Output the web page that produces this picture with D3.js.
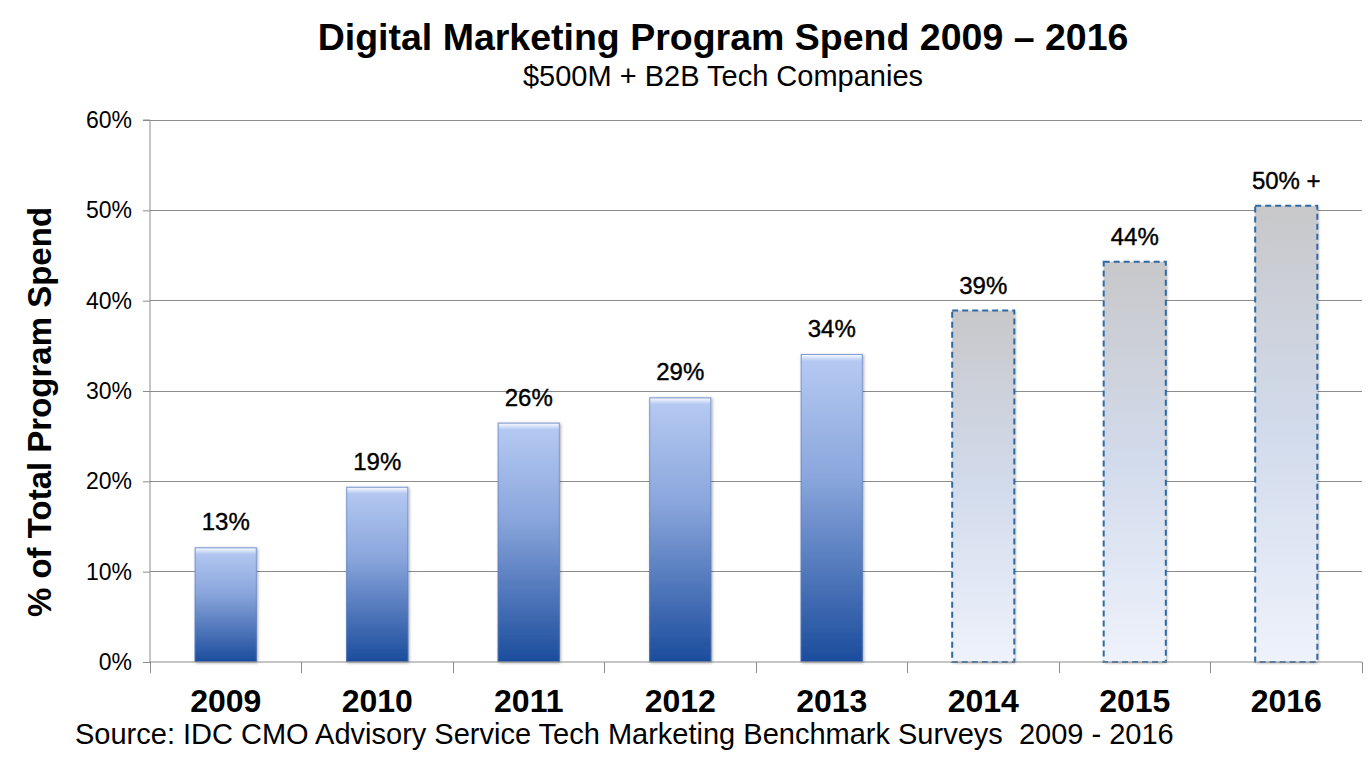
<!DOCTYPE html>
<html><head><meta charset="utf-8">
<script src="https://cdn.jsdelivr.net/npm/d3@7"></script>
<style>body{margin:0;background:#fff}svg{display:block;font-family:Arial,"Liberation Sans",sans-serif}text{white-space:pre}</style>
</head><body>
<svg id="c" width="1372" height="770"></svg>
<script>
const categories = ["2009","2010","2011","2012","2013","2014","2015","2016"];
const values = [12.7, 19.4, 26.5, 29.3, 34.1, 38.9, 44.3, 50.5];
const labels = ["13%","19%","26%","29%","34%","39%","44%","50% +"];
const projected = [false,false,false,false,false,true,true,true];
const yTicks = [0,10,20,30,40,50,60];

const svg = d3.select("#c");
const m = {l:150, r:1362, t:120, b:662};
const x = d3.scaleBand().domain(categories).range([m.l, m.r]).paddingInner(0.59).paddingOuter(0.295);
const xo = d3.scaleBand().domain(categories).range([m.l, m.r]);
const y = d3.scaleLinear().domain([0,60]).range([m.b, m.t]);

const defs = svg.append("defs");
const g1 = defs.append("linearGradient").attr("id","gA").attr("x1",0).attr("y1",0).attr("x2",0).attr("y2",1);
g1.append("stop").attr("offset","0%").attr("stop-color","#b7cbf3");
g1.append("stop").attr("offset","40%").attr("stop-color","#8aa6dc");
g1.append("stop").attr("offset","100%").attr("stop-color","#1b4c9c");
const g2 = defs.append("linearGradient").attr("id","gB").attr("x1",0).attr("y1",0).attr("x2",0).attr("y2",1);
g2.append("stop").attr("offset","0%").attr("stop-color","#c8c8ca");
g2.append("stop").attr("offset","50%").attr("stop-color","#d2dbec");
g2.append("stop").attr("offset","100%").attr("stop-color","#eef2fb");
const gh = defs.append("linearGradient").attr("id","gH").attr("x1",0).attr("y1",0).attr("x2",0).attr("y2",1);
gh.append("stop").attr("offset","0%").attr("stop-color","#ffffff").attr("stop-opacity",0.85);
gh.append("stop").attr("offset","100%").attr("stop-color","#ffffff").attr("stop-opacity",0);
const sh = defs.append("filter").attr("id","sh").attr("x","-20%").attr("y","-5%").attr("width","140%").attr("height","115%");
sh.append("feDropShadow").attr("dx",1).attr("dy",1).attr("stdDeviation",1.5).attr("flood-color","#000").attr("flood-opacity",0.35);

// gridlines
svg.append("g").selectAll("line").data(yTicks.filter(d=>d>0)).join("line")
  .attr("x1",m.l).attr("x2",m.r).attr("y1",d=>y(d)).attr("y2",d=>y(d))
  .attr("stroke","#8c8c8c").attr("stroke-width",1).attr("shape-rendering","crispEdges");

// y axis
const ya = svg.append("g").attr("transform",`translate(${m.l},0)`)
  .call(d3.axisLeft(y).tickValues(yTicks).tickFormat(d=>d+"%").tickSize(7).tickPadding(11));
ya.select(".domain").attr("stroke","#8c8c8c").attr("d",`M-7,${m.t}H0V${m.b}`);
ya.selectAll(".tick line").attr("stroke","#8c8c8c");
ya.selectAll("text").attr("font-size","23px").attr("fill","#000").attr("font-family","Arial,'Liberation Sans',sans-serif");

// bars
const bars = svg.append("g");
categories.forEach((c,i)=>{
  const bx = x(c), bw = x.bandwidth(), by = y(values[i]), bh = y(0)-y(values[i]);
  if(!projected[i]){
    bars.append("rect").attr("x",bx).attr("y",by).attr("width",bw).attr("height",bh)
      .attr("fill","url(#gA)").attr("filter","url(#sh)");
    bars.append("rect").attr("x",bx+1).attr("y",by+1).attr("width",bw-2).attr("height",6)
      .attr("fill","url(#gH)");
    bars.append("rect").attr("x",bx+0.5).attr("y",by+0.5).attr("width",bw-1).attr("height",bh-1)
      .attr("fill","none").attr("stroke","#5f7fb8").attr("stroke-width",1).attr("stroke-opacity",0.6);
  } else {
    bars.append("rect").attr("x",bx).attr("y",by).attr("width",bw).attr("height",bh)
      .attr("fill","url(#gB)").attr("filter","url(#sh)");
    bars.append("rect").attr("x",bx).attr("y",by).attr("width",bw).attr("height",bh)
      .attr("fill","none").attr("stroke","#2e6aa3").attr("stroke-width",2).attr("stroke-dasharray","6,4");
  }
  bars.append("text").attr("x",bx+bw/2).attr("y",by-17).attr("text-anchor","middle")
    .attr("font-size","24px").attr("fill","#000").attr("stroke","#000").attr("stroke-width",0.4)
    .text(labels[i]);
});

// x axis
const xa = svg.append("g").attr("transform",`translate(0,${m.b})`)
  .call(d3.axisBottom(xo).tickSize(0).tickPadding(27));
xa.select(".domain").attr("stroke","#8c8c8c").attr("d",`M${m.l},0H${m.r}`);
xa.selectAll("text").attr("font-size","32px").attr("font-weight","bold").attr("fill","#000")
  .attr("font-family","Arial,'Liberation Sans',sans-serif");
svg.append("g").selectAll("line").data(d3.range(categories.length+1)).join("line")
  .attr("x1",d=>m.l+d*xo.step()).attr("x2",d=>m.l+d*xo.step())
  .attr("y1",m.b).attr("y2",m.b+11).attr("stroke","#8c8c8c").attr("shape-rendering","crispEdges");

// titles
svg.append("text").attr("x",723).attr("y",50).attr("text-anchor","middle")
  .attr("font-size","37.5px").attr("font-weight","bold").text("Digital Marketing Program Spend 2009 \u2013 2016");
svg.append("text").attr("x",723).attr("y",86).attr("text-anchor","middle")
  .attr("font-size","29px").text("$500M + B2B Tech Companies");
svg.append("text").attr("transform","translate(51,412) rotate(-90)").attr("text-anchor","middle")
  .attr("font-size","33px").attr("font-weight","bold").text("% of Total Program Spend");
svg.append("text").attr("x",75).attr("y",744)
  .attr("font-size","29px").text("Source: IDC CMO Advisory Service Tech Marketing Benchmark Surveys  2009 - 2016");
</script>
</body></html>
